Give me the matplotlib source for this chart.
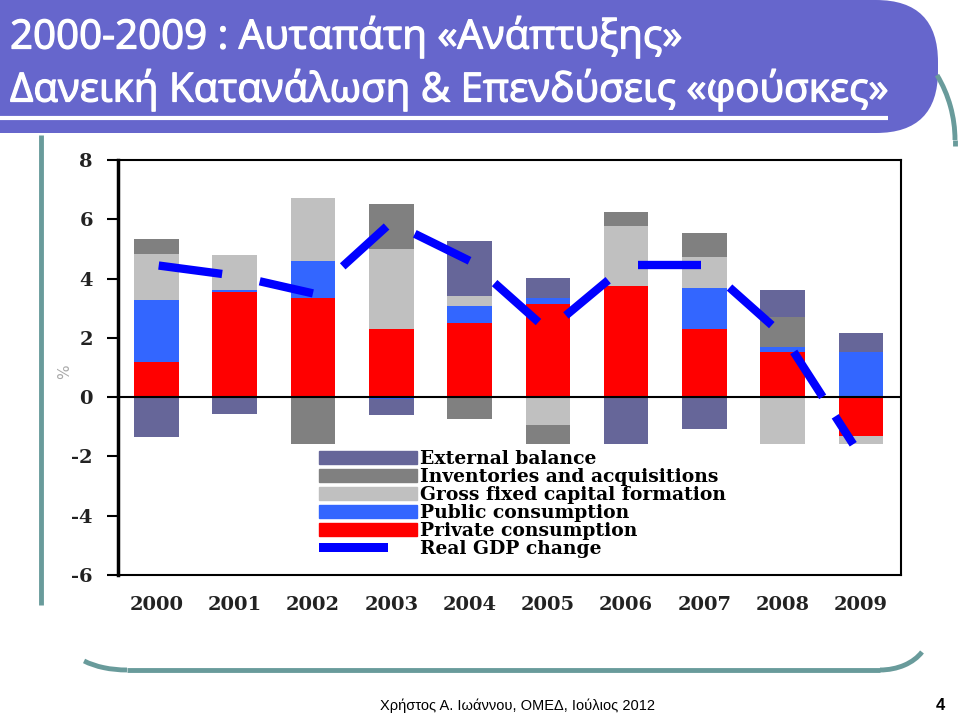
import matplotlib.pyplot as plt
from matplotlib.patches import FancyBboxPatch, Patch, Arc, Rectangle
import matplotlib.patheffects as pe
import numpy as np

plt.rcParams['axes.unicode_minus'] = False

# data (% contributions to real GDP growth)
years = ['2000', '2001', '2002', '2003', '2004', '2005', '2006', '2007', '2008', '2009']
private = [1.20, 3.55, 3.33, 2.31, 2.51, 3.13, 3.75, 2.30, 1.53, -1.32]
public = [2.07, 0.05, 1.27, -0.05, 0.56, 0.20, 0.00, 1.38, 0.16, 1.53]
gfcf = [1.57, 1.20, 2.13, 2.70, 0.34, -0.95, 2.02, 1.04, -1.58, -0.26]
inventories = [0.50, 0.00, -1.58, 1.52, -0.73, -0.62, 0.48, 0.83, 1.02, 0.00]
external = [-1.35, -0.58, 0.00, -0.55, 1.86, 0.70, -1.58, -1.08, 0.89, 0.63]
gdp = [4.45, 4.10, 3.50, 5.90, 4.60, 2.25, 4.45, 4.45, 2.10, -2.00]

labels = ['External balance', 'Inventories and acquisitions',
          'Gross fixed capital formation', 'Public consumption',
          'Private consumption', 'Real GDP change']
colors = ['#666699', '#808080', '#C0C0C0', '#3366FF', '#FF0000']
gdp_color = '#0000FF'
teal = '#699B9B'
banner = '#6666CC'

# visible part of each GDP line segment (the original line is broken)
seg_start = [0.03, 0.32, 0.38, 0.30, 0.32, 0.23, 0.15, 0.32, 0.14, 0.67]
seg_end = [0.84, 1.00, 0.94, 1.00, 0.88, 0.77, 0.96, 0.86, 0.51, 0.90]


class ShortBarHandler:
    # legend key for the GDP line: a short thick bar
    def legend_artist(self, legend, orig_handle, fontsize, handlebox):
        x0, y0 = handlebox.xdescent, handlebox.ydescent
        w, h = handlebox.width, handlebox.height
        r = Rectangle((x0, y0 + 0.15 * h), 0.71 * w, 0.6 * h,
                      facecolor=gdp_color, edgecolor='none',
                      transform=handlebox.get_transform())
        handlebox.add_artist(r)
        return r


W, H = 960, 716
fig = plt.figure(figsize=(W / 100, H / 100), dpi=100)

# slide decorations, in pixel coordinates
deco = fig.add_axes([0, 0, 1, 1], zorder=0)
deco.set_xlim(0, W)
deco.set_ylim(H, 0)
deco.axis('off')

deco.add_patch(FancyBboxPatch((-80, 0), 1018, 133,
                              boxstyle='round,pad=0,rounding_size=62',
                              facecolor=banner, edgecolor='none'))
deco.plot([0, 888], [118, 118], color='white', lw=3, solid_capstyle='butt')
thick = [pe.withStroke(linewidth=0.9, foreground='white')]
deco.text(10, 37, '2000-2009 : Αυταπάτη «Ανάπτυξης»', color='white',
          fontsize=29, family='Open Sans', va='center', ha='left',
          path_effects=thick)
deco.text(10, 90, 'Δανεική Κατανάλωση & Επενδύσεις «φούσκες»', color='white',
          fontsize=29, family='Open Sans', va='center', ha='left',
          path_effects=thick)

# teal frame lines
deco.plot([41, 41], [135, 605], color=teal, lw=3.5, solid_capstyle='butt')
deco.add_patch(Arc((127, 640), 120, 60, theta1=90, theta2=154,
                   color=teal, lw=3.5))
deco.add_patch(Arc((880, 635), 96, 70, theta1=22, theta2=90,
                   color=teal, lw=3.5))
deco.plot([127, 880], [670, 670], color=teal, lw=3.5, solid_capstyle='butt')
deco.add_patch(Arc((829, 140), 252, 252, theta1=-31, theta2=0,
                   color=teal, lw=3.5))
deco.plot([955, 955], [140, 146], color=teal, lw=3.5, solid_capstyle='butt')

deco.text(380, 706, 'Χρήστος Α. Ιωάννου, ΟΜΕΔ, Ιούλιος 2012', fontsize=10.5,
          family='Liberation Sans', va='center', ha='left')
deco.text(940, 706, '4', fontsize=12, family='Liberation Sans',
          weight='bold', va='center', ha='center')

# chart
ax = fig.add_axes([118 / W, 1 - 575 / H, 783 / W, 415 / H], zorder=1)
x = np.arange(len(years))
width = 0.57

pos_base = np.zeros(len(years))
neg_base = np.zeros(len(years))
series = [private, public, gfcf, inventories, external]
series_colors = colors[::-1]
for vals, col in zip(series, series_colors):
    vals = np.array(vals)
    bottom = np.where(vals >= 0, pos_base, neg_base)
    ax.bar(x, vals, width, bottom=bottom, color=col, zorder=2)
    pos_base = pos_base + np.clip(vals, 0, None)
    neg_base = neg_base + np.clip(vals, None, 0)

for i in range(len(years) - 1):
    t = np.array([seg_start[i], seg_end[i]])
    xs = x[i] + t * (x[i + 1] - x[i])
    ys = gdp[i] + t * (gdp[i + 1] - gdp[i])
    ax.plot(xs, ys, color=gdp_color, lw=6, solid_capstyle='butt', zorder=4)
# last piece runs off into the hidden lower part
t = np.array([seg_start[-1], seg_end[-1]])
ax.plot(x[8] + t, gdp[8] + t * (gdp[9] - gdp[8]), color=gdp_color, lw=6,
        solid_capstyle='butt', zorder=4)

ax.axhline(0, color='black', lw=1.5, zorder=3)
ax.set_xlim(-0.49, 9.51)
ax.set_ylim(-6, 8)
ax.set_yticks(range(-6, 9, 2))
ax.set_xticks(x)
ax.set_xticklabels(years)
for s in ax.spines.values():
    s.set_linewidth(1.5)
ax.spines['left'].set_linewidth(2.5)
ax.tick_params(axis='y', direction='out', length=8, width=1.5, pad=10)
ax.tick_params(axis='x', length=0, pad=15)
for lab in ax.get_xticklabels() + ax.get_yticklabels():
    lab.set_family('DejaVu Serif')
    lab.set_fontsize(14)
    lab.set_weight('bold')
    lab.set_color('#222222')
ax.set_ylabel('%', fontsize=11, color='#aaaaaa')
ax.yaxis.set_label_coords(-0.058, 0.49)

leg = ax.legend([Patch(color=c) for c in colors] + [Rectangle((0, 0), 1, 1)],
                labels, loc='upper left',
                bbox_to_anchor=((319 - 118) / 783, (575 - 450) / 415),
                frameon=False, borderpad=0, borderaxespad=0,
                handlelength=5.2, handleheight=0.75, handletextpad=0.2,
                labelspacing=0.0,
                handler_map={Rectangle: ShortBarHandler()},
                prop={'family': 'DejaVu Serif', 'size': 13.5, 'weight': 'bold'})
leg.set_zorder(5)

fig.savefig('out.png', dpi=100)
